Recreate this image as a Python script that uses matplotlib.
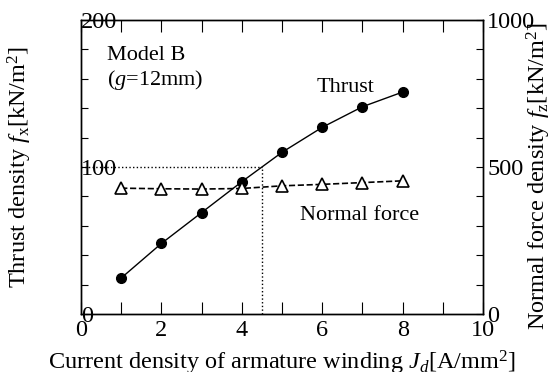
import numpy as np
import matplotlib.pyplot as plt
from matplotlib.ticker import MultipleLocator

plt.rcParams['font.family'] = ['Liberation Serif']
plt.rcParams['mathtext.fontset'] = 'custom'
plt.rcParams['mathtext.rm'] = 'Liberation Serif'
plt.rcParams['mathtext.it'] = 'Liberation Serif:italic'

# data
current = np.array([1, 2, 3, 4, 5, 6, 7, 8])
thrust = np.array([24.5, 48, 69, 90, 110, 127, 141, 151])      # kN/m^2 (left)
normal = np.array([428, 426, 425, 427, 436, 441, 447, 453])   # kN/m^2 (right)
j_rated = 4.5
f_rated = 100

fig = plt.figure(figsize=(5.53, 3.72), dpi=100)
ax = fig.add_axes([0.1465, 0.1559, 0.727, 0.7903])
ax2 = ax.twinx()

ax.plot(current, thrust, 'k-', marker='o', ms=7, lw=1, zorder=3)
ax2.plot(current, normal, 'k--', marker='^', ms=8, mfc='white', mew=1.2, lw=1.2)

ax.plot([0, j_rated], [f_rated, f_rated], 'k:', lw=1)
ax.plot([j_rated, j_rated], [0, f_rated], 'k:', lw=1)

ax.set_xlim(0, 10)
ax.set_ylim(0, 200)
ax2.set_ylim(0, 1000)

ax.xaxis.set_major_locator(MultipleLocator(2))
ax.xaxis.set_minor_locator(MultipleLocator(1))
ax.yaxis.set_major_locator(MultipleLocator(100))
ax.yaxis.set_minor_locator(MultipleLocator(20))
ax2.yaxis.set_major_locator(MultipleLocator(500))
ax2.yaxis.set_minor_locator(MultipleLocator(100))

fs = 17.5
ax.tick_params(axis='x', which='both', direction='in', top=True, length=8.5, width=0.8,
               labelsize=fs, pad=4)
ax.tick_params(axis='y', which='both', direction='in', length=5, width=0.8,
               labelsize=fs, pad=0)
ax2.tick_params(axis='y', which='both', direction='in', length=5, width=0.8,
                labelsize=fs, pad=3)
for t in ax.yaxis.get_major_ticks():
    t.label1.set_horizontalalignment('left')

for a in (ax, ax2):
    for s in a.spines.values():
        s.set_linewidth(1.0)

ax.set_xlabel('Current density of armature winding $J_d$[A/mm$^2$]', fontsize=fs, labelpad=6)
ax.set_ylabel('Thrust density $f_\\mathrm{x}$[kN/m$^2$]', fontsize=fs)
ax2.set_ylabel('Normal force density $f_\\mathrm{z}$[kN/m$^2$]', fontsize=fs)
ax.yaxis.set_label_coords(-0.117, 0.5)
ax2.yaxis.set_label_coords(1.105, 0.47)

ax.text(0.65, 176, 'Model B', fontsize=16, va='center')
ax.text(0.65, 159, '($g$=12mm)', fontsize=16, va='center')
ax.text(6.57, 154, 'Thrust', fontsize=16, ha='center', va='center')
ax.text(6.94, 67, 'Normal force', fontsize=16, ha='center', va='center')

fig.savefig('out.png', dpi=100)
